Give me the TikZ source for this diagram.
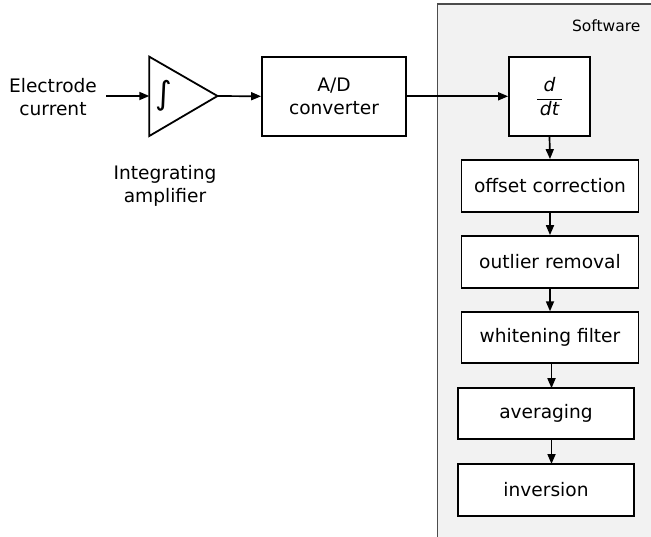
\documentclass[tikz,border=0pt]{standalone}
\usepackage{fontspec}
\setmainfont{DejaVu Sans}
\usetikzlibrary{arrows.meta}
\begin{document}
\begin{tikzpicture}[x=1pt,y=-1pt,
  every node/.style={font=\fontsize{18.6}{23}\selectfont},
  blk/.style={draw=black,line width=1.8pt,fill=white,inner sep=0pt,align=center},
  sblk/.style={blk,minimum width=177pt,minimum height=52pt},
  conn/.style={line width=1.7pt,-{Triangle[length=10pt,width=8pt]}},
  lbl/.style={align=center}]
\useasboundingbox (0,0) rectangle (651,536);
% software area
\begin{scope}
\clip (0,0) rectangle (651,536);
\draw[fill=black!5,draw=black!70,line width=1.8pt] (437.5,4) rectangle (700,600);
\end{scope}
\node[anchor=east,font=\fontsize{15.5}{18}\selectfont] (sw) at (644,26) {Software};
% input
\node[lbl] (ec) at (53,97.5) {Electrode\\current};
\coordinate (ecout) at (106,96);
% amplifier
\coordinate (tl) at (149.3,56.7);
\coordinate (bl) at (149.3,136);
\coordinate (tip) at (217.5,96);
\coordinate (ampin) at (149.3,96);
\draw[line width=1.8pt,line join=miter] (tl) -- (tip) -- (bl) -- cycle;
\node (int) at (164,96) {\fontsize{32}{34}\selectfont ∫};
\node[lbl] (ia) at (165,186) {Integrating\\amplifier};
% boxes
\node[blk,minimum width=144pt,minimum height=79pt] (ad) at (334,96.3) {A/D\\converter};
\node[blk,minimum width=81pt,minimum height=79pt] (dd) at (549.5,96.3) {$\displaystyle\frac{\textit{d}}{\,\textit{dt}\,}$};
\node[sblk] (oc) at (550,186) {offset correction};
\node[sblk] (or) at (550,262) {outlier removal};
\node[sblk,minimum height=51pt] (wf) at (550,337.7) {whitening filter};
\node[sblk,minimum width=176pt,minimum height=51pt] (av) at (546,413.7) {averaging};
\node[sblk,minimum width=176pt] (iv) at (546,490) {inversion};
% connector end points for the lower, slightly offset column
\coordinate (wfo) at (551.5,363.2);
\coordinate (avi) at (551.5,388.2);
\coordinate (avo) at (551.5,439.2);
\coordinate (ivi) at (551.5,464);
% connectors
\draw[conn] (ecout) -- (ampin);
\draw[conn] (tip) -- (ad.west);
\draw[conn] (ad.east) -- (dd.west);
\draw[conn] (dd.south) -- (oc.north);
\draw[conn] (oc.south) -- (or.north);
\draw[conn] (or.south) -- (wf.north);
\draw[conn] (wfo) -- (avi);
\draw[conn] (avo) -- (ivi);
\end{tikzpicture}
\end{document}
